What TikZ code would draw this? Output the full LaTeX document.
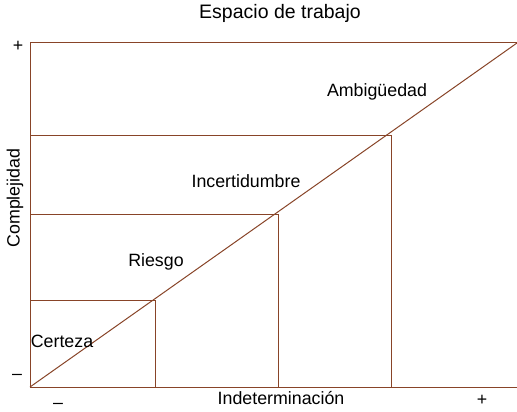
\documentclass[tikz,border=0pt]{standalone}
\usepackage{fontspec}
\setmainfont{Liberation Sans}
\usepackage{tikz}
\definecolor{linea}{RGB}{136,68,40}

\begin{document}
\begin{tikzpicture}[x=1pt, y=-1pt, font=\fontsize{17.8}{20}\selectfont]
		\useasboundingbox (0, 0) rectangle (517, 412);
		\draw[linea, line width=1pt] (517, 43) to (30, 43) to (30, 387) to (517, 387);
		\draw[linea, line width=1pt] (30, 387) to (517, 43);
		\draw[linea, line width=1pt] (30, 135.5) to (391, 135.5) to (391, 387);
		\draw[linea, line width=1pt] (30, 214) to (278, 214) to (278, 387);
		\draw[linea, line width=1pt] (30, 300) to (155.5, 300) to (155.5, 387);
		\node[font=\fontsize{19.5}{22}\selectfont] (titulo) at (280, 13) {Espacio de trabajo};
		\node (ambiguedad) at (377, 92) {Ambigüedad};
		\node (incertidumbre) at (246, 181) {Incertidumbre};
		\node (riesgo) at (156, 262) {Riesgo};
		\node (certeza) at (62, 341) {Certeza};
		\node (indeterminacion) at (281, 398) {Indeterminación};
		\node[rotate=90] (complejidad) at (15, 198) {Complejidad};
		\node (masy) at (18, 46) {+};
		\node (menosy) at (17, 377) {–};
		\node (menosx) at (58, 406) {–};
		\node (masx) at (482, 400) {+};
	\end{tikzpicture}
\end{document}
